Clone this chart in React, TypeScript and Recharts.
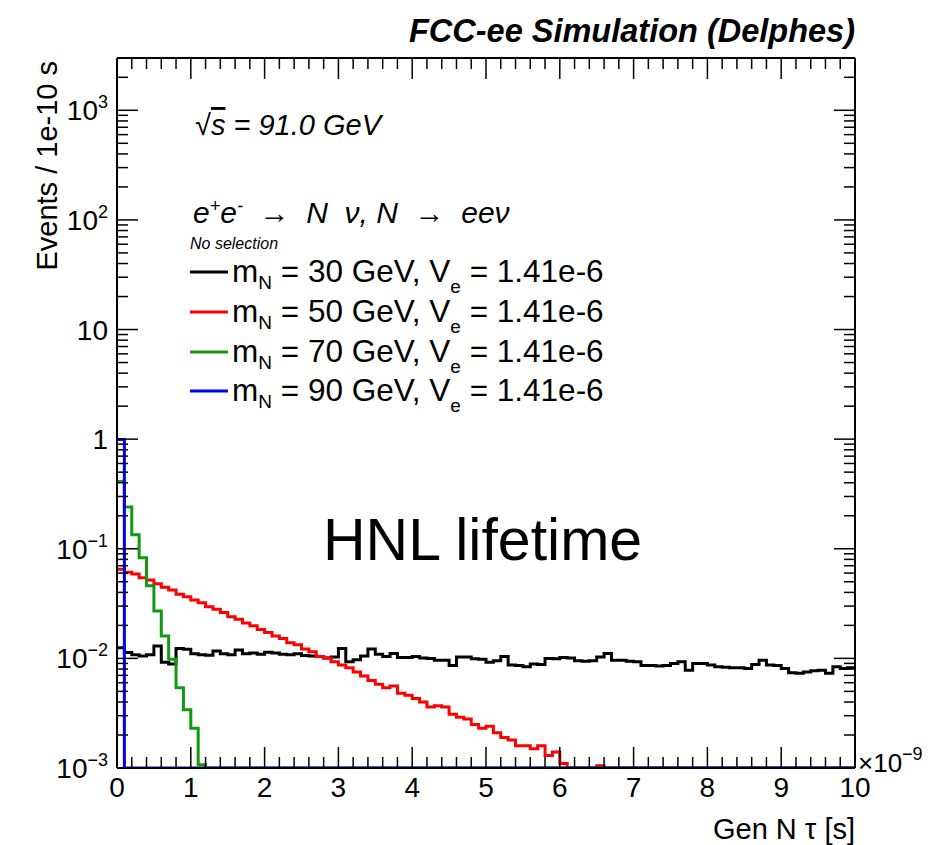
import React from 'react'
import { LineChart, Line, XAxis, YAxis } from 'recharts'

// HNL lifetime, FCC-ee (Delphes), normalised histograms, 100 bins of 1e-10 s

const W = 947
const H = 845
const MARGIN = { top: 57, right: 91, bottom: 76, left: 116 }
const YMIN = 1e-3
const YMAX = 3000
const FONT = '"Liberation Sans", Arial, Helvetica, sans-serif'

const NBINS = 100
const BIN_W = 0.1

// bin contents (0 = below the frame)
const hist30 = [
  0.0125, 0.0113, 0.0108, 0.0105, 0.0108, 0.0130, 0.0092, 0.0089, 0.0123, 0.0121,
  0.0110, 0.0108, 0.0107, 0.0117, 0.0110, 0.0108, 0.0119, 0.0110, 0.0112, 0.0109,
  0.0114, 0.0112, 0.0109, 0.0108, 0.0110, 0.0106, 0.0105, 0.0104, 0.0101, 0.0103,
  0.0123, 0.0093, 0.0097, 0.0105, 0.0122, 0.0109, 0.0104, 0.0111, 0.0102, 0.0102,
  0.0104, 0.0101, 0.0100, 0.0096, 0.0096, 0.0086, 0.0103, 0.0103, 0.0099, 0.0098,
  0.0092, 0.0095, 0.0104, 0.0087, 0.0086, 0.0084, 0.0089, 0.0088, 0.0100, 0.0099,
  0.0102, 0.0101, 0.0095, 0.0094, 0.0095, 0.0103, 0.0111, 0.0096, 0.0096, 0.0094,
  0.0093, 0.0086, 0.0086, 0.0085, 0.0086, 0.0090, 0.0093, 0.0078, 0.0090, 0.0090,
  0.0087, 0.0084, 0.0083, 0.0082, 0.0082, 0.0081, 0.0088, 0.0096, 0.0087, 0.0086,
  0.0081, 0.0074, 0.0073, 0.0075, 0.0077, 0.0078, 0.0073, 0.0084, 0.0081, 0.0082,
]
const hist50 = [
  0.0650, 0.0610, 0.0590, 0.0545, 0.0520, 0.0480, 0.0445, 0.0420, 0.0385, 0.0365,
  0.0340, 0.0322, 0.0296, 0.0280, 0.0262, 0.0240, 0.0228, 0.0210, 0.0198, 0.0183,
  0.0172, 0.0160, 0.0152, 0.0139, 0.0133, 0.0122, 0.0115, 0.0104, 0.0101, 0.0093,
  0.0087, 0.0082, 0.0075, 0.0069, 0.0063, 0.0058, 0.0054, 0.0056, 0.0048, 0.0046,
  0.0043, 0.0040, 0.0036, 0.0037, 0.0036, 0.0031, 0.0029, 0.0028, 0.0025, 0.0023,
  0.0024, 0.0021, 0.0019, 0.0018, 0.0016, 0.0016, 0.0015, 0.0016, 0.0013, 0.0014,
  0.0011, 0, 0, 0, 0, 0.00105,
]
const hist70 = [0.41, 0.24, 0.134, 0.083, 0.046, 0.027, 0.016, 0.0098, 0.0054, 0.0034, 0.0023, 0.00107]
const hist90 = [0.995]

const masses = [30, 50, 70, 90]
const colors = ['#000000', '#ff0000', '#119911', '#0000ff']
const keys = ['m30', 'm50', 'm70', 'm90']
const series = [hist30, hist50, hist70, hist90]
const mixing = '1.41e-6'

const xTicks = Array.from({ length: 51 }, (_, i) => i / 5)
const yTicks: number[] = []
for (let e = -3; e <= 3; e++) {
  for (let m = 1; m <= 9; m++) {
    const v = m * Math.pow(10, e)
    if (v <= YMAX) yTicks.push(v)
  }
}

const clip = (v: number | undefined) => Math.max(v ?? 0, YMIN)

// bin low edges, plus the upper edge of the last bin so stepAfter closes it
const rows = Array.from({ length: NBINS + 1 }, (_, i) => {
  const k = Math.min(i, NBINS - 1)
  const r: any = { x: i * BIN_W }
  series.forEach((h, s) => { r[keys[s]] = clip(h[k]) })
  return r
})

const isMajorLog = (v: number) => Math.abs(Math.log10(v) - Math.round(Math.log10(v))) < 1e-6
const isInt = (v: number) => Math.abs(v - Math.round(v)) < 1e-6

const BottomTick = ({ x, y, payload }: any) => {
  const major = isInt(payload.value)
  return (
    <g>
      <line x1={x} x2={x} y1={y} y2={y - (major ? 21 : 11)} stroke="#000" strokeWidth={1.5} />
      {major && (
        <text x={x} y={y + 29} textAnchor="middle" fontSize={28} fontFamily={FONT} fill="#000">
          {Math.round(payload.value)}
        </text>
      )}
    </g>
  )
}

const TopTick = ({ x, y, payload }: any) => {
  const major = isInt(payload.value)
  return <line x1={x} x2={x} y1={y} y2={y + (major ? 21 : 11)} stroke="#000" strokeWidth={1.5} />
}

const LeftTick = ({ x, y, payload }: any) => {
  const v = payload.value
  const major = isMajorLog(v)
  const e = Math.round(Math.log10(v))
  return (
    <g>
      <line x1={x} x2={x + (major ? 21 : 11)} y1={y} y2={y} stroke="#000" strokeWidth={1.5} />
      {major && (
        <text x={x - 9} y={y + 10} textAnchor="end" fontSize={28} fontFamily={FONT} fill="#000">
          {e === 0 ? '1' : e === 1 ? '10' : (
            <>
              <tspan>10</tspan>
              <tspan dy={-12} fontSize={18}>{e < 0 ? `\u2212${-e}` : e}</tspan>
            </>
          )}
        </text>
      )}
    </g>
  )
}

const RightTick = ({ x, y, payload }: any) => {
  const major = isMajorLog(payload.value)
  return <line x1={x} x2={x - (major ? 21 : 11)} y1={y} y2={y} stroke="#000" strokeWidth={1.5} />
}

const axisLine = { stroke: '#000', strokeWidth: 2 }
const sp = '\u00a0'

export default function App() {
  const legendY = [272, 312, 352, 391]
  return (
    <div style={{ position: 'absolute', left: 0, top: 0, width: W, height: H, background: '#fff', fontFamily: FONT }}>
      <LineChart width={W} height={H} data={rows} margin={MARGIN}>
        <XAxis
          dataKey="x" type="number" domain={[0, 10]} ticks={xTicks} interval={0}
          height={1} tickSize={0} tickMargin={0} tickLine={false} axisLine={axisLine}
          tick={<BottomTick />} allowDataOverflow
        />
        <XAxis
          xAxisId="top" orientation="top" dataKey="x" type="number" domain={[0, 10]} ticks={xTicks} interval={0}
          height={1} tickSize={0} tickMargin={0} tickLine={false} axisLine={axisLine}
          tick={<TopTick />} allowDataOverflow
        />
        <YAxis
          type="number" scale="log" domain={[YMIN, YMAX]} ticks={yTicks} interval={0}
          width={1} tickSize={0} tickMargin={0} tickLine={false} axisLine={axisLine}
          tick={<LeftTick />} allowDataOverflow
        />
        <YAxis
          yAxisId="right" orientation="right" type="number" scale="log" domain={[YMIN, YMAX]} ticks={yTicks} interval={0}
          width={1} tickSize={0} tickMargin={0} tickLine={false} axisLine={axisLine}
          tick={<RightTick />} allowDataOverflow
        />
        {keys.map((k, s) => (
          <Line
            key={k} dataKey={k} type="stepAfter" stroke={colors[s]} strokeWidth={3}
            dot={false} activeDot={false} isAnimationActive={false}
          />
        ))}
      </LineChart>

      <svg width={W} height={H} style={{ position: 'absolute', left: 0, top: 0, pointerEvents: 'none' }} fontFamily={FONT}>
        <text x={855} y={42} textAnchor="end" fontSize={32.5} fontWeight="bold" fontStyle="italic">
          FCC-ee Simulation (Delphes)
        </text>
        <text transform="translate(57,61) rotate(-90)" textAnchor="end" fontSize={29}>
          Events / 1e-10 s
        </text>
        <text x={855} y={839} textAnchor="end" fontSize={29}>Gen N τ [s]</text>
        <text x={858} y={772} fontSize={26}>
          ×10<tspan dy={-12} fontSize={18}>−9</tspan>
        </text>

        <text x={195} y={135} fontSize={29} fontStyle="italic">
          √<tspan style={{ textDecoration: 'overline' }}>s</tspan> = 91.0 GeV
        </text>
        <text x={193} y={223} fontSize={30} fontStyle="italic">
          e<tspan dy={-11} fontSize={18}>+</tspan><tspan dy={11}>e</tspan>
          <tspan dy={-11} fontSize={18}>-</tspan>
          <tspan dy={11}>{`${sp}${sp}→${sp}${sp}N${sp}${sp}ν, N${sp}${sp}→${sp}${sp}eeν`}</tspan>
        </text>
        <text x={190} y={249} fontSize={16} fontStyle="italic">No selection</text>
        {masses.map((m, s) => (
          <g key={m}>
            <line x1={190} x2={228} y1={legendY[s]} y2={legendY[s]} stroke={colors[s]} strokeWidth={3} />
            <text x={232} y={legendY[s] + 10} fontSize={31.5}>
              m<tspan dy={7} fontSize={19}>N</tspan>
              <tspan dy={-7}>{` = ${m} GeV, V`}</tspan>
              <tspan dy={11} fontSize={19}>e</tspan>
              <tspan dy={-11}>{` = ${mixing}`}</tspan>
            </text>
          </g>
        ))}

        <text x={323} y={560} fontSize={59}>HNL lifetime</text>
      </svg>
    </div>
  )
}
